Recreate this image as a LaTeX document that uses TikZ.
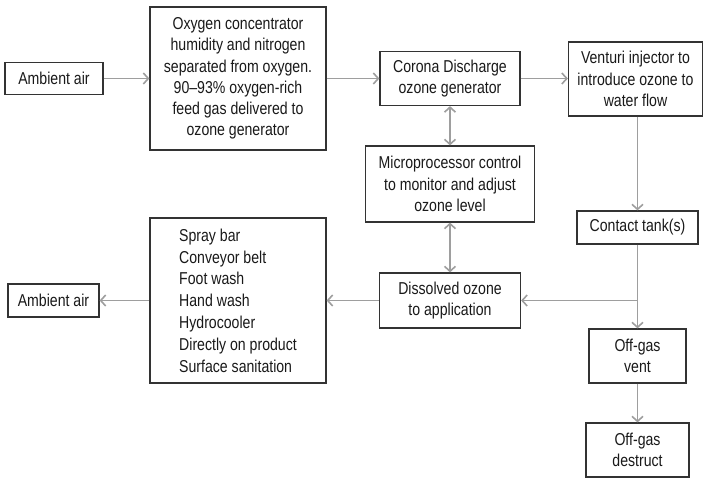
\documentclass[tikz,border=0pt]{standalone}
\usepackage{fontspec}
\setmainfont[FakeStretch=0.82]{Liberation Sans}
\usetikzlibrary{arrows.meta}

\begin{document}
\begin{tikzpicture}[x=0.5pt, y=-0.5pt,
		box/.style={draw=black!80, line width=0.6pt, text=black!90, align=center, inner sep=0pt, font=\fontsize{8.6}{10.6}\selectfont},
		arr/.style={draw=black!38, line width=0.8pt, -{Straight Barb[length=2.5pt,width=5.5pt]}},
		dblarr/.style={arr, {Straight Barb[length=2.5pt,width=5.5pt]}-{Straight Barb[length=2.5pt,width=5.5pt]}}]
		%%%%% START %%%%%
		\useasboundingbox (0, 0) rectangle (703, 478);
		
		\node[box, minimum width=49pt, minimum height=16pt] (air1) at (54, 78.5) {Ambient air};
		\node[box, minimum width=88pt, minimum height=71.5pt] (oxy) at (238, 78.5) {Oxygen concentrator\\humidity and nitrogen\\separated from oxygen.\\90--93\% oxygen-rich\\feed gas delivered to\\ozone generator};
		\node[box, minimum width=70pt, minimum height=27pt] (corona) at (450, 78.5) {Corona Discharge\\ozone generator};
		\node[box, minimum width=67pt, minimum height=37pt] (venturi) at (635.5, 79) {Venturi injector to\\introduce ozone to\\water flow};
		\node[box, minimum width=84.5pt, minimum height=38pt] (micro) at (450, 184) {Microprocessor control\\to monitor and adjust\\ozone level};
		\node[box, minimum width=60.5pt, minimum height=16.5pt] (tank) at (637.5, 227.5) {Contact tank(s)};
		
		\node[box, minimum width=45.5pt, minimum height=16.5pt] (air2) at (53.5, 300.5) {Ambient air};
		\node[box, minimum width=88pt, minimum height=82.5pt, align=left, font=\fontsize{8.6}{10.9}\selectfont] (uses) at (238, 300.5) {Spray bar\\Conveyor belt\\Foot wash\\Hand wash\\Hydrocooler\\Directly on product\\Surface sanitation};
		\node[box, minimum width=70.5pt, minimum height=27.5pt] (dissolved) at (450, 300.5) {Dissolved ozone\\to application};
		\node[box, minimum width=48.5pt, minimum height=27pt] (vent) at (637.5, 356) {Off-gas\\vent};
		\node[box, minimum width=51.5pt, minimum height=27pt] (destruct) at (637.5, 450) {Off-gas\\destruct};
		\coordinate (split) at (637.5, 300.5);
		
		\draw[arr] (air1) -- (oxy);
		\draw[arr] (oxy) -- (corona);
		\draw[arr] (corona) -- (venturi.west |- corona);
		\draw[arr] (tank.north |- venturi.south) -- (tank.north);
		\draw[dblarr] (corona) -- (micro);
		\draw[dblarr] (micro) -- (dissolved);
		\draw[draw=black!38, line width=0.8pt] (tank) -- (split);
		\draw[arr] (split) -- (dissolved);
		\draw[arr] (split) -- (vent);
		\draw[arr] (vent) -- (destruct);
		\draw[arr] (dissolved) -- (uses);
		\draw[arr] (uses) -- (air2);
		
		%%%%% END %%%%%
	\end{tikzpicture}
\end{document}
